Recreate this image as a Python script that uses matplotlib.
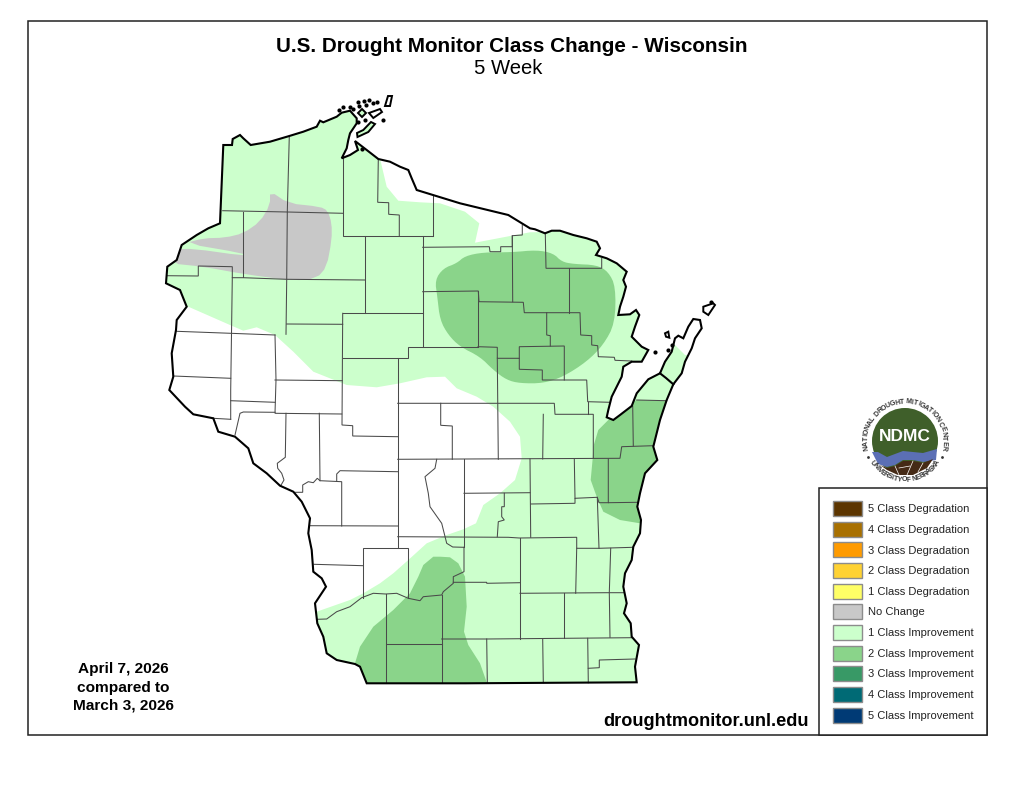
import numpy as np
import matplotlib
matplotlib.use('Agg')
import matplotlib.pyplot as plt
from matplotlib.patches import Polygon, Circle, Rectangle

plt.rcParams['font.family'] = ['Liberation Sans', 'DejaVu Sans']

# 图例
legend_labels = ['5 Class Degradation', '4 Class Degradation', '3 Class Degradation',
                 '2 Class Degradation', '1 Class Degradation', 'No Change',
                 '1 Class Improvement', '2 Class Improvement', '3 Class Improvement',
                 '4 Class Improvement', '5 Class Improvement']
legend_colors = ['#5c3500', '#a87000', '#ff9b00', '#ffd233', '#ffff66', '#c8c8c8',
                 '#ccffcc', '#8ad48a', '#389966', '#006a75', '#003a75']
LIGHT = '#ccffcc'
DARK = '#8ad48a'
GRAY = '#c8c8c8'

state_outline = [
    (223.3, 145), (232, 145), (232.7, 139), (240, 135), (243.3, 138.3), (250.7, 145), (270, 141.7),
    (289.3, 136), (303.3, 131.7), (316.7, 126.7), (320, 120.7), (323.3, 122.3), (336.7, 116.7),
    (341.7, 112.7), (350, 110.7), (356.7, 118.3), (356.7, 123.3), (350, 133.3), (348.3, 140),
    (346.7, 148.3), (341.7, 158.3), (350, 155), (358, 150), (355, 141), (366.7, 150), (378.3, 159),
    (390, 161.7), (400, 166.7), (408.3, 170), (411.7, 178.3), (416.7, 190), (460, 203.3),
    (508.3, 215), (530, 228.3), (535, 229.3), (545, 233.3), (551.7, 230.7), (560, 230.7),
    (573.3, 235), (586.7, 238.3), (596.7, 241.7), (600, 248.3), (596, 255), (606.7, 258.3),
    (616.7, 263.3), (626.7, 271.7), (623.3, 280), (626, 286.7), (623.3, 296.7), (620, 306.7),
    (618.3, 315), (630, 314.3), (636, 310), (639.3, 315), (635, 326.7), (631.7, 336.7),
    (641.7, 346.7), (648.3, 350), (641.7, 361.7), (631.7, 361.7), (623.3, 366.7), (621.7, 376.7),
    (611.7, 396.7), (608.3, 410), (606.7, 417.3), (613.3, 420), (620, 415), (631.7, 406),
    (636.7, 393.3), (648.3, 379.3), (660, 373.3), (665, 361.7), (671.7, 351.7), (675, 338.3),
    (678.3, 335.7), (683.3, 338.3), (688.3, 326.7), (693.3, 319), (700, 320), (701.7, 328.3),
    (695, 338.3), (691.7, 348.3), (685, 361.7), (681.7, 373.3), (673.3, 384.3), (666.7, 400),
    (660, 420), (653.3, 446.7), (657.3, 460), (645, 473.3), (640, 493.3), (637.3, 506.7),
    (641, 520), (640, 533.3), (633.3, 546.7), (631.7, 560), (625, 573.3), (623.3, 586.7),
    (626.7, 603.3), (624, 613.3), (630.7, 623.3), (631.7, 636.7), (639, 645), (635, 666.7),
    (636.7, 682.3), (465, 683.3), (366.7, 683.3), (360, 666.7), (355, 664), (336.7, 660),
    (326.7, 653.3), (323.3, 636.7), (317.3, 623.3), (315, 603.3), (326, 586.7), (321.7, 578.3),
    (313.3, 571.7), (311.7, 550), (308.3, 533.3), (310, 518.3), (301.7, 501.7), (293.3, 491.7),
    (280, 485.7), (266.7, 473.3), (253.3, 463.3), (248.3, 448.3), (235, 436.7), (218.3, 431.7),
    (213.3, 418.3), (193.3, 414.3), (185, 406.7), (169.3, 390), (173.3, 376.7), (171.7, 353.3),
    (176, 330), (176.7, 320), (186.7, 306.7), (180, 290), (166, 283.3), (167.3, 266.7),
    (176.7, 260), (181.7, 245), (196.7, 235), (208.3, 228.3), (220, 223.3),
]
sturgeon_cut = [(660, 373.3), (666, 378), (673.3, 384.3)]

madeline_island = [(357, 133), (363.3, 130), (371, 122), (375, 124), (368.3, 132), (357.5, 137)]
stockton_island = [(369, 113), (380, 109), (382, 112), (373.3, 118)]
outer_island = [(385, 106), (388, 96), (392, 96), (390, 106)]
oak_island = [(358, 113), (362, 109), (366, 113), (362, 117)]
rock_island = [(703.3, 306.7), (713.3, 303.3), (715, 305), (708.3, 315), (703.3, 311.7)]
chambers_island = [(665, 333.3), (668.3, 331.7), (669.3, 337.7), (666, 336.7)]
islands = [madeline_island, stockton_island, outer_island, oak_island, rock_island, chambers_island]
islet_x = [339, 343, 350, 353, 358, 359, 364, 366, 369, 373, 377, 383, 365, 358, 655, 668.3, 671.7, 711, 361.7]
islet_y = [110, 107, 107, 109, 102, 106, 101, 105, 100, 103, 102, 120, 120, 122, 351.7, 350, 345, 302, 149.3]

# areas with no class change, painted over the 1 class base
white_north = [(378, 150), (386.7, 186.7), (398.3, 200.7), (420, 202.3), (440, 203.3), (465, 211.7),
               (479.3, 223.3), (475, 242.7), (511.7, 235.7), (530, 232.3), (545, 232), (545, 215), (420, 150)]
white_southwest = [(150, 300), (188.3, 306.7), (230, 325), (243.3, 330.7), (256.7, 327.3), (275, 335),
                   (293.3, 351.7), (313.3, 371.7), (346.7, 385), (376.7, 387.3), (400, 383.3),
                   (426.7, 377.3), (445, 376.7), (456.7, 388.3), (476.7, 396.7), (493.3, 406.7),
                   (510, 421.7), (520, 436.7), (521.7, 458.3), (515, 480), (500, 493.3), (483.3, 505),
                   (476, 523.3), (463.3, 529.3), (446.7, 535), (426.7, 543.3), (408.3, 560),
                   (393.3, 573.3), (380, 583.3), (363.3, 593.3), (350, 600), (316.7, 611.7),
                   (300, 620), (150, 420)]
white_door = [(675, 345), (685, 355), (705, 355), (725, 290), (670, 290), (655, 345)]
white_areas = [white_north, white_southwest, white_door]

gray_area = [(270, 191), (288.3, 203.3), (320, 206.7), (327.7, 210.7), (331.7, 223.3), (331.7, 240),
             (326.7, 266.7), (316.7, 278.3), (293.3, 280.7), (243.3, 274), (203.3, 266.7), (170, 263.3),
             (175, 249.3), (193.3, 248.7), (243.3, 255.7), (243.3, 253.3), (185, 243.3), (203.3, 238.3),
             (225, 237.7), (243.3, 233.3), (260, 221.7), (270, 205)]

dark_north = [(435, 280), (443.3, 268.3), (456.7, 263.3), (465, 256), (483.3, 252.3), (511.7, 252.3),
              (536.7, 250), (553.3, 253.3), (561.7, 261.7), (573.3, 264), (596.7, 265), (608.3, 271.7),
              (615.7, 286.7), (615, 323.3), (603.3, 345), (586.7, 361.7), (563.3, 376.7), (543.3, 383.3),
              (520, 383.3), (506.7, 380), (493.3, 370), (480, 356.7), (460, 346.7), (448.3, 335),
              (440, 320), (437.3, 296.7)]
dark_east = [(636.7, 400), (667, 400.7), (680, 400), (680, 525), (640, 523.3), (620, 520), (603.3, 511.7),
             (596.7, 496.7), (590.7, 480), (592.7, 458.3), (593.3, 446.7), (598.3, 430), (608.3, 420),
             (620, 412), (632, 402)]
dark_south = [(440, 556.7), (450, 557.3), (458.3, 563.3), (465, 576.7), (466.7, 606.7), (464, 631.7),
              (468.3, 645), (480, 663.3), (486.7, 682.3), (486.7, 690), (360, 690), (355, 663.3),
              (360, 646.7), (373.3, 626.7), (393.3, 610), (410, 593.3), (418.3, 576.7), (423.3, 565),
              (433.3, 556.7)]

# county lines
county_lines = [
    [(289.3, 136), (287.3, 211.7), (286.7, 280), (286, 334.3)],
    [(222.7, 210.7), (287.3, 212), (343.3, 213.3)],
    [(243.3, 211.7), (243.3, 276.7)],
    [(166.7, 275.7), (198.3, 276), (198.3, 266), (232.3, 266.7), (232.3, 277.7), (243.3, 277.7), (286.7, 279.3), (365, 280)],
    [(232.3, 277.7), (230.7, 390), (230.7, 419.3)],
    [(176.7, 331.3), (230.7, 333.3), (275, 335)],
    [(275, 335), (276, 380), (275, 413.3), (341.7, 414)],
    [(286.7, 324), (342.7, 324.3)],
    [(342.7, 313.3), (423.3, 313.3)],
    [(342.7, 313.3), (342, 425), (352.7, 425.7), (352.7, 436), (397.7, 436.7)],
    [(342.7, 358.3), (408.3, 358.3), (408.3, 346.7), (478, 346.7)],
    [(397.7, 358.3), (397.7, 548.3)],
    [(365.3, 236), (365.3, 313.3)],
    [(343.3, 158.3), (343.3, 236), (432.7, 236)],
    [(378.3, 159), (377.7, 202.3), (388.7, 202.7), (388.7, 214.3), (399.3, 215), (399.3, 236)],
    [(432.7, 196), (432.7, 236)],
    [(422.7, 236), (422.7, 346.7)],
    [(422.7, 247.3), (489.3, 246.7), (490, 251.7), (500.7, 251.7), (500.7, 246.7), (512.3, 246.7), (512.3, 235.7), (522.3, 235), (522.3, 225)],
    [(173.3, 376), (230.7, 378.3)],
    [(275, 380), (342.3, 380.7)],
    [(512.3, 235.7), (512.7, 301.7)],
    [(545.3, 233.3), (546, 268.3), (601.7, 268.3), (601.7, 258.3)],
    [(569, 268.3), (569, 312.7)],
    [(422.7, 291.7), (478.3, 291), (479, 301.7), (523.3, 302.3), (524.3, 312.7), (580, 312.7), (580.7, 335),
     (591.7, 335.7), (591.7, 345), (597.7, 345.7), (598.3, 356.7), (614.3, 357.3), (615, 360.3), (631.7, 361)],
    [(478.3, 291), (478.3, 346.7)],
    [(478, 346.7), (497.3, 347.3), (497.3, 358.3), (519.3, 358.3), (519.3, 369.3), (542.3, 370), (542.3, 380),
     (586.7, 380), (587.7, 401.7), (610, 402.3)],
    [(497.3, 358.3), (498.3, 459.3)],
    [(519.3, 358.3), (519.3, 346.7), (564.3, 346), (564.3, 380)],
    [(546.7, 312.7), (546.7, 335), (550.3, 335.7), (550.3, 346)],
    [(397.7, 403.3), (554.3, 403.3), (555, 414.3), (593.3, 414.3), (593.3, 458.3)],
    [(587.7, 401.7), (587.7, 414.3)],
    [(543.3, 414.3), (542.7, 459)],
    [(397.7, 459.3), (620, 458.3), (621.7, 446.7), (653.3, 445.7)],
    [(632.7, 406), (633.3, 446)],
    [(636.7, 400), (666.7, 400.7)],
    [(440.7, 403.3), (440.7, 425.3), (452.3, 426), (452.3, 459.3)],
    [(213.3, 418.3), (230.7, 419.3)],
    [(230.7, 400.7), (275, 402.3)],
    [(235, 435), (240, 413.3), (243.3, 412), (275, 412.3)],
    [(286, 413.3), (285.3, 457.3), (277.3, 463.3), (277.7, 468.3), (281.7, 473.3), (284, 480), (280.7, 485.7)],
    [(319.3, 413.3), (320, 480.7)],
    [(295, 492.3), (302.7, 492.3), (302.7, 485), (308.3, 481.7), (313.3, 482.7), (317.3, 478.3), (320, 480.7),
     (341.7, 481.7), (341.7, 526)],
    [(336.7, 480.7), (336.7, 474), (340, 470.7), (397.7, 471.7)],
    [(310, 525.7), (397.7, 526)],
    [(397.7, 536.7), (508.3, 537.3), (519.3, 538), (576.7, 537.3), (576.7, 548.3), (599, 548.3), (633.3, 547.3)],
    [(436.7, 459.3), (435, 468.3), (425, 476.7), (428.3, 493.3), (430, 506.7), (441.7, 523.3), (446.7, 543.3), (452.7, 547), (464, 547.3)],
    [(464, 547.3), (464, 571.7), (453.3, 576.7), (453.3, 583.3), (443.3, 591.7), (441.7, 595), (423.3, 596.7),
     (420, 600.7), (408.3, 598.3), (396.7, 593.3), (385.7, 594), (373.3, 593.3), (361.7, 597.7), (350, 606.7),
     (336.7, 611.7), (326.7, 619), (317.3, 619.3)],
    [(363.3, 597.7), (363.3, 548.3), (408.3, 548.3), (408.3, 598.3)],
    [(314, 564.3), (363.3, 565.7)],
    [(385.7, 594), (385.7, 683.3)],
    [(385.7, 644), (441.7, 644)],
    [(441.7, 595), (441.7, 683.3)],
    [(441.7, 639), (486.7, 639), (632, 637.7)],
    [(453.3, 582.3), (486.7, 582.3), (486.7, 583.3), (520, 582.7)],
    [(464, 459), (464, 547.3)],
    [(464, 493.3), (530, 492.7)],
    [(530, 459), (530.7, 537.3)],
    [(504.3, 493.3), (504.3, 506.7), (501.7, 506.7), (501.7, 516.7), (504.3, 520), (498.3, 521.7), (497.3, 536.7)],
    [(530.7, 504), (575, 503.3), (575, 498.3), (597.3, 497.3), (599, 548.3)],
    [(574.3, 459), (575, 498.3)],
    [(608.3, 459), (608.3, 502.7), (638.3, 502.3)],
    [(597.3, 497.3), (599, 502.7), (608.3, 502.7)],
    [(520, 538), (520, 639)],
    [(520, 593.3), (606.7, 592.7), (624, 592.7)],
    [(576.7, 548.3), (575.7, 593.3)],
    [(610.7, 548.3), (609.3, 592.7), (610, 637.3)],
    [(564.3, 593.3), (564.3, 638.3)],
    [(486.7, 639), (487.3, 682.7)],
    [(542.7, 639), (543.3, 682.7)],
    [(587.7, 638.3), (588.3, 682.7)],
    [(588.3, 668.3), (599.3, 667.7), (599.3, 660), (635, 659)],
]

# NDMC logo
logo_green = '#3f5f2a'
logo_blue = '#5b6fb5'
logo_brown = '#452a16'
logo_wave = [(872, 452), (878, 452), (887, 457), (895, 454), (903, 451), (913, 452), (923, 453), (937, 449),
             (936, 460), (923, 462), (913, 460), (903, 460), (895, 465), (887, 467), (878, 464)]
logo_ground = [(880, 465), (887, 468), (895, 466), (903, 461), (913, 461), (923, 463), (933, 459),
               (927, 468), (913, 475), (898, 475), (887, 470)]
logo_cracks = [[(895, 466), (899, 475)], [(913, 461), (907, 475)], [(923, 463), (918, 472)], [(899, 468), (910, 466)]]
logo_top = 'NATIONAL DROUGHT MITIGATION CENTER'
logo_bottom = 'UNIVERSITY OF NEBRASKA'


def chaikin(pts, n):
    # 圆角
    pts = np.array(pts)
    for _ in range(n):
        nxt = np.roll(pts, -1, axis=0)
        pts = np.column_stack([0.75 * pts + 0.25 * nxt, 0.25 * pts + 0.75 * nxt]).reshape(-1, 2)
    return pts


def ring_angles(text, a0, a1):
    # narrow letters take less of the ring
    w = np.array([0.45 if c in 'I ' else 1.0 for c in text])
    pos = np.cumsum(w) - w / 2
    return a0 + (a1 - a0) * (pos - pos[0]) / (pos[-1] - pos[0])


fig = plt.figure(figsize=(10.24, 7.91), dpi=100)
ax = fig.add_axes([0, 0, 1, 1])
ax.set_xlim(0, 1024)
ax.set_ylim(791, 0)
ax.axis('off')

# 外框
ax.add_patch(Rectangle((27.5, 20.5), 959.5, 714.5, fc='white', ec='#222222', lw=1.1, zorder=0))

state = Polygon(state_outline, closed=True, fc=LIGHT, ec='none', zorder=1)
ax.add_patch(state)
for pts in white_areas:
    p = Polygon(pts, closed=True, fc='white', ec='none', zorder=2)
    ax.add_patch(p)
    p.set_clip_path(state)
p = Polygon(chaikin(gray_area, 1), closed=True, fc=GRAY, ec='none', zorder=3)
ax.add_patch(p)
p.set_clip_path(state)
for pts in [chaikin(dark_north, 2), dark_east, dark_south]:
    p = Polygon(pts, closed=True, fc=DARK, ec='none', zorder=3)
    ax.add_patch(p)
    p.set_clip_path(state)

for line in county_lines:
    xs, ys = zip(*line)
    ax.plot(xs, ys, color='#4a4a4a', lw=0.75, zorder=4, solid_joinstyle='miter')

ax.add_patch(Polygon(state_outline, closed=True, fc='none', ec='black', lw=1.5, zorder=5))
xs, ys = zip(*sturgeon_cut)
ax.plot(xs, ys, color='black', lw=1.5, zorder=5)
for i, pts in enumerate(islands):
    fc = LIGHT if i in (0, 3) else 'white'
    ax.add_patch(Polygon(pts, closed=True, fc=fc, ec='black', lw=1.4, zorder=5))
ax.scatter(islet_x, islet_y, s=9, color='black', lw=0, zorder=5)

# 标题
ax.text(512, 46, 'U.S. Drought Monitor Class Change - Wisconsin', ha='center', va='center',
        fontsize=14.9, fontweight='bold')
ax.text(508, 68, '5 Week', ha='center', va='center', fontsize=14.6)

ax.text(123, 669, 'April 7, 2026', ha='center', va='center', fontsize=11.1, fontweight='bold')
ax.text(123, 688, 'compared to', ha='center', va='center', fontsize=11.1, fontweight='bold')
ax.text(123, 706, 'March 3, 2026', ha='center', va='center', fontsize=11.1, fontweight='bold')
ax.text(809, 721, 'droughtmonitor.unl.edu', ha='right', va='center', fontsize=13.1, fontweight='bold')

# legend
ax.add_patch(Rectangle((819, 487.5), 168, 247.5, fc='white', ec='#222222', lw=1.1, zorder=6))
for i, (lab, col) in enumerate(zip(legend_labels, legend_colors)):
    y = 508.5 + i * 20.65
    ax.add_patch(Rectangle((832.5, y - 7.5), 29.5, 15, fc=col, ec='#8c8c8c', lw=1.0, zorder=7))
    ax.text(868, y + 0.7, lab, ha='left', va='center', fontsize=8.0, color='#222222', zorder=7)

# logo
cx, cy = 905, 441
ax.add_patch(Circle((cx, cy), 33, fc=logo_green, ec='none', zorder=6))
for pts, col in ((logo_wave, logo_blue), (logo_ground, logo_brown)):
    ax.add_patch(Polygon(pts, closed=True, fc=col, ec='none', zorder=7))
for seg in logo_cracks:
    xs, ys = zip(*seg)
    ax.plot(xs, ys, color='white', lw=0.5, zorder=8)
# white below the wave, over the disc
ax.add_patch(Polygon([(872, 464), (880, 466), (887, 471), (898, 476), (913, 476), (927, 469), (936, 460),
                      (940, 480), (870, 480)], closed=True, fc='white', ec='none', zorder=6.5))
ax.text(cx, cy - 4.5, 'NDMC', ha='center', va='center', color='white', fontsize=12.5, fontweight='bold',
        zorder=8)
for ch, a in zip(logo_top, ring_angles(logo_top, 190, -10)):
    r = np.deg2rad(a)
    ax.text(cx + 39 * np.cos(r), cy - 39 * np.sin(r), ch, ha='center', va='center', rotation=a - 90,
            rotation_mode='anchor', fontsize=5, fontweight='bold', color='#333333', zorder=8)
for ch, a in zip(logo_bottom, ring_angles(logo_bottom, 214, 326)):
    r = np.deg2rad(a)
    ax.text(cx + 39 * np.cos(r), cy - 39 * np.sin(r), ch, ha='center', va='center', rotation=a + 90,
            rotation_mode='anchor', fontsize=5, fontweight='bold', color='#333333', zorder=8)
ax.scatter([cx - 37, cx + 37], [cy + 16, cy + 16], s=4, color='#333333', lw=0, zorder=8)

fig.savefig('out.png', dpi=100)
